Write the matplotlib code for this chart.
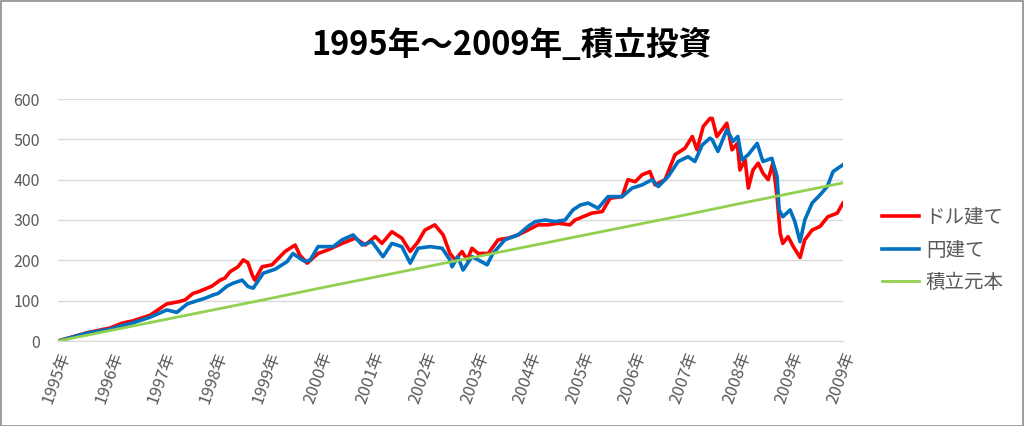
import matplotlib
matplotlib.use("Agg")
import matplotlib.pyplot as plt
from matplotlib.patches import Rectangle

plt.rcParams['font.family'] = ['Noto Sans CJK JP', 'DejaVu Sans']

title = "1995年～2009年_積立投資"
tick_labels = ["1995年", "1996年", "1997年", "1998年", "1999年", "2000年", "2001年",
               "2002年", "2003年", "2004年", "2005年", "2006年", "2007年", "2008年",
               "2009年", "2009年"]
series_names = ["ドル建て", "円建て", "積立元本"]

# ドル建て (USD based)
usd_x = [0.00, 0.57, 0.99, 1.22, 1.43, 1.76, 2.01, 2.08, 2.33, 2.43, 2.58, 2.68, 2.85, 2.94,
         3.10, 3.19, 3.29, 3.44, 3.54, 3.63, 3.71, 3.76, 3.90, 4.09, 4.34, 4.53, 4.62, 4.76,
         4.97, 5.16, 5.43, 5.68, 5.87, 6.06, 6.19, 6.38, 6.57, 6.73, 6.88, 7.01, 7.20, 7.36,
         7.49, 7.59, 7.72, 7.82, 7.91, 8.03, 8.22, 8.41, 8.60, 8.79, 8.98, 9.17, 9.36, 9.56,
         9.78, 9.88, 10.03, 10.20, 10.40, 10.55, 10.78, 10.89, 11.03, 11.16, 11.31, 11.41,
         11.60, 11.79, 11.98, 12.12, 12.21, 12.33, 12.46, 12.50, 12.59, 12.69, 12.78, 12.88,
         12.98, 13.03, 13.13, 13.19, 13.28, 13.38, 13.47, 13.57, 13.66, 13.74, 13.80, 13.85,
         13.95, 14.05, 14.18, 14.27, 14.41, 14.56, 14.71, 14.89, 15.00]
usd_y = [0, 21, 32, 44, 50, 64, 86, 92, 98, 102, 118, 122, 131, 136,
         151, 156, 172, 184, 201, 194, 164, 151, 184, 189, 222, 238, 213, 193,
         217, 226, 242, 255, 238, 259, 242, 271, 255, 222, 246, 275, 288, 263,
         217, 201, 222, 201, 230, 217, 217, 251, 255, 263, 275, 288, 288, 292,
         288, 300, 308, 317, 321, 354, 358, 400, 395, 412, 420, 387,
         400, 462, 478, 507, 474, 532, 552, 552, 507, 524, 540, 474,
         490, 424, 449, 379, 424, 441, 416, 400, 441, 358, 267, 242,
         259, 234, 207, 251, 275, 284, 308, 317, 342]

# 円建て (JPY based)
jpy_x = [0.00, 0.57, 0.99, 1.22, 1.43, 1.76, 2.08, 2.27, 2.47, 2.71, 2.81, 2.96, 3.06, 3.23,
         3.34, 3.52, 3.63, 3.73, 3.92, 4.15, 4.38, 4.49, 4.62, 4.72, 4.82, 4.97, 5.26, 5.43,
         5.64, 5.81, 6.00, 6.21, 6.38, 6.57, 6.73, 6.88, 7.11, 7.34, 7.49, 7.53, 7.64, 7.74,
         7.91, 8.03, 8.20, 8.31, 8.54, 8.79, 8.98, 9.12, 9.31, 9.50, 9.69, 9.84, 9.98, 10.13,
         10.32, 10.51, 10.78, 10.97, 11.16, 11.35, 11.47, 11.66, 11.85, 12.04, 12.17, 12.31,
         12.46, 12.50, 12.61, 12.78, 12.90, 12.99, 13.07, 13.19, 13.36, 13.47, 13.64, 13.74,
         13.78, 13.85, 13.99, 14.08, 14.18, 14.27, 14.41, 14.56, 14.70, 14.81, 15.00]
jpy_y = [0, 20, 29, 38, 45, 59, 77, 71, 92, 102, 106, 114, 118, 136,
         143, 151, 135, 131, 168, 178, 197, 217, 205, 197, 201, 234, 234, 251,
         263, 238, 246, 209, 242, 234, 193, 230, 234, 230, 201, 184, 209, 176,
         209, 201, 189, 217, 251, 263, 284, 296, 300, 296, 300, 325, 337, 342,
         329, 358, 358, 379, 387, 400, 383, 408, 445, 457, 445, 486,
         503, 499, 470, 524, 495, 507, 449, 462, 490, 445, 453, 408,
         325, 308, 325, 296, 246, 300, 342, 362, 383, 420, 437]

# 積立元本 (principal)
base_x = list(range(16))
base_y = [0, 26, 52, 78, 104, 131, 157, 183, 209, 235, 261, 287, 313, 340, 366, 392]

W, H = 1024, 426
fig = plt.figure(figsize=(W / 100, H / 100), dpi=100)
ax = fig.add_axes([58 / W, 1 - 341 / H, (843 - 58) / W, (341 - 99) / H])

ax.plot(usd_x, usd_y, color='#FF0000', lw=2.6, label=series_names[0], solid_joinstyle='round')
ax.plot(jpy_x, jpy_y, color='#0070C0', lw=2.6, label=series_names[1], solid_joinstyle='round')
ax.plot(base_x, base_y, color='#92D050', lw=2.0, label=series_names[2])

ax.set_xlim(0, 15)
ax.set_ylim(0, 600)
ax.set_yticks(range(0, 601, 100))
ax.set_xticks(range(16))
ax.set_xticklabels(tick_labels, rotation=70, ha='right', va='top', rotation_mode='anchor')
ax.tick_params(axis='both', length=0, colors='#595959')
ax.tick_params(axis='y', pad=13, labelsize=11.5)
ax.tick_params(axis='x', pad=6, labelsize=12)
ax.grid(axis='y', color='#d9d9d9', lw=1)
ax.set_axisbelow(True)
for s in ['top', 'right', 'left']:
    ax.spines[s].set_visible(False)
ax.spines['bottom'].set_color('#d9d9d9')

fig.text(0.5, 1 - 45 / H, title, ha='center', va='center', fontsize=23.5, fontweight='bold',
         color='black')

leg = fig.legend(loc='center left', bbox_to_anchor=(882 / W, 1 - 250 / H), frameon=False,
                 fontsize=14, labelcolor='#595959', handlelength=1.9, handletextpad=0.35,
                 labelspacing=0.6, borderpad=0, borderaxespad=0)

fig.patches.append(Rectangle((0.5 / W, 0.5 / H), 1 - 1.5 / W, 1 - 1.5 / H,
                             transform=fig.transFigure, fill=False, edgecolor='#8c8c8c', lw=1.2))

fig.savefig('out.png', dpi=100)
